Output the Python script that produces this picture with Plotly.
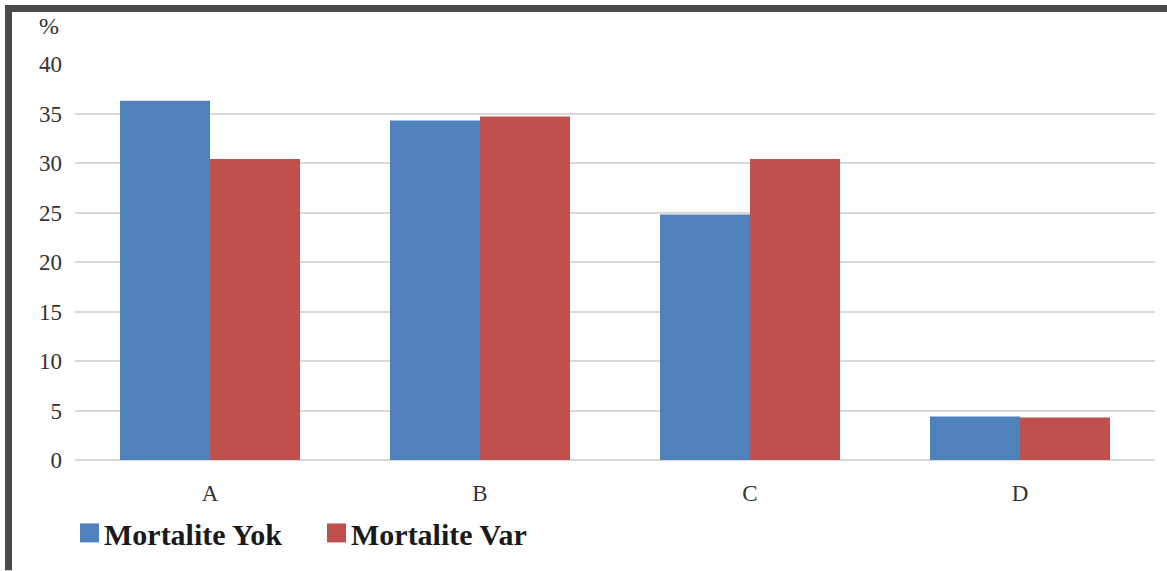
import plotly.graph_objects as go

categories = ["A", "B", "C", "D"]
mortalite_yok = [36.3, 34.3, 24.8, 4.4]
mortalite_var = [30.4, 34.7, 30.4, 4.3]
y_ticks = [0, 5, 10, 15, 20, 25, 30, 35, 40]
series_names = ["Mortalite Yok", "Mortalite Var"]

BLUE = "#4F81BD"
RED = "#C0504D"
SERIF = "Times New Roman, Liberation Serif, serif"

W, H = 1167, 571
L, R, T, B = 75, 12, 64, 110.5
PW, PH = W - L - R, H - T - B


def px_x(x):
    return (x - L) / PW


def px_y(y):
    return (H - B - y) / PH


fig = go.Figure()
for name, values, color in zip(series_names, [mortalite_yok, mortalite_var], [BLUE, RED]):
    fig.add_trace(go.Bar(name=name, x=categories, y=values,
                         marker=dict(color=color, line=dict(width=0)),
                         showlegend=False))

# legend row below the axis: coloured squares with bold labels
legend_x = [80, 327]
for name, color, lx in zip(series_names, [BLUE, RED], legend_x):
    fig.add_shape(type="rect", xref="paper", yref="paper",
                  x0=px_x(lx), x1=px_x(lx + 19), y0=px_y(524), y1=px_y(543),
                  fillcolor=color, line=dict(width=0))
    fig.add_annotation(text=name, xref="paper", yref="paper",
                       x=px_x(lx + 22), y=px_y(535), xanchor="left", yanchor="middle",
                       showarrow=False,
                       font=dict(family=SERIF, size=30, color="#1a1a1a", weight="bold"))

# dark frame along the top and left edges
fig.add_shape(type="line", xref="paper", yref="paper",
              x0=px_x(5), x1=px_x(W), y0=px_y(8.5), y1=px_y(8.5),
              line=dict(color="#4a4a4a", width=7))
fig.add_shape(type="line", xref="paper", yref="paper",
              x0=px_x(8.5), x1=px_x(8.5), y0=px_y(5), y1=px_y(H),
              line=dict(color="#4a4a4a", width=7))

fig.add_annotation(text="%", xref="paper", yref="paper",
                   x=px_x(49), y=px_y(26), xanchor="center", yanchor="middle",
                   showarrow=False,
                   font=dict(family=SERIF, size=24, color="#333333"))

fig.update_layout(
    width=W, height=H,
    margin=dict(l=L, r=R, t=T, b=B),
    paper_bgcolor="white", plot_bgcolor="white",
    barmode="group", bargap=0.3333, bargroupgap=0,
    font=dict(family=SERIF, color="#333333"),
    showlegend=False,
    xaxis=dict(showline=False, showgrid=False, zeroline=False,
               tickfont=dict(family=SERIF, size=23, color="#333333"),
               ticks="", ticklabelstandoff=17),
    yaxis=dict(range=[0, 40], tickvals=y_ticks, showline=False,
               showgrid=True, gridcolor="#d9d9d9", gridwidth=2,
               zeroline=True, zerolinecolor="#d9d9d9", zerolinewidth=2,
               tickfont=dict(family=SERIF, size=23, color="#333333"),
               ticks="", ticklabelstandoff=12),
)

fig.write_html("out.html")
